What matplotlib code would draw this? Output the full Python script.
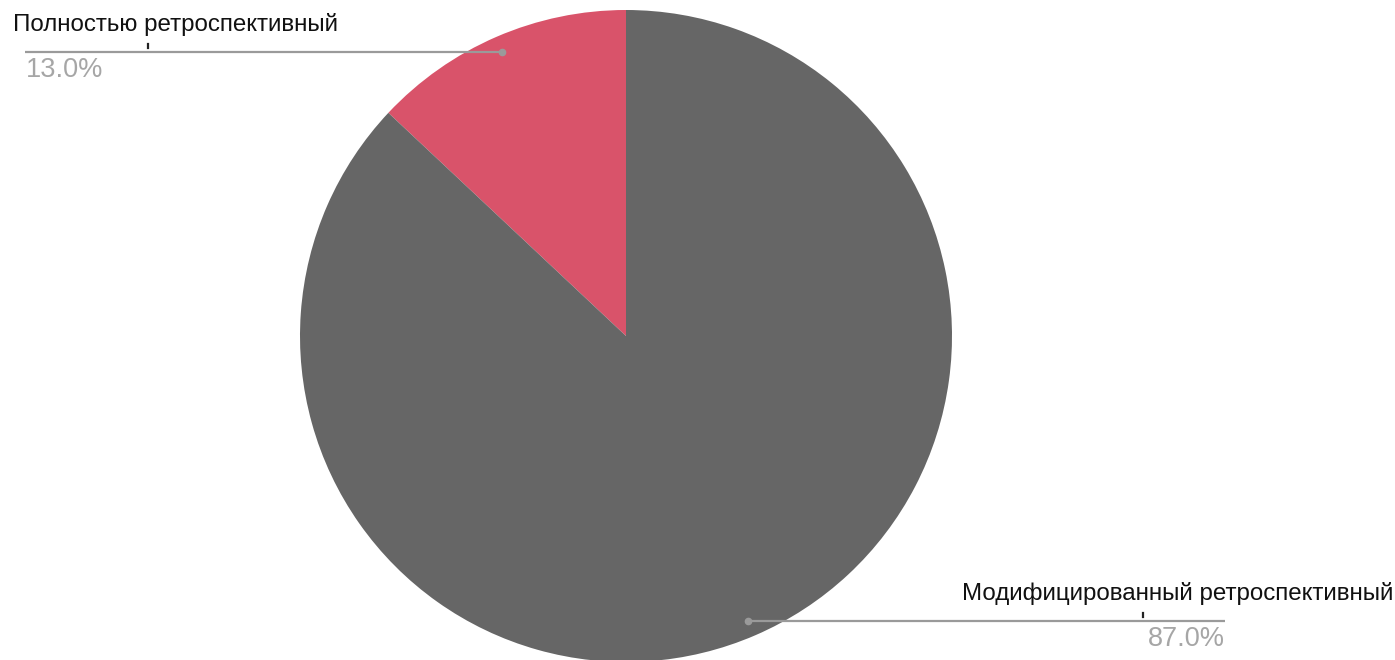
import matplotlib
matplotlib.use("Agg")
import matplotlib.pyplot as plt

labels = ["Полностью ретроспективный", "Модифицированный ретроспективный"]
values = [13.0, 87.0]
colors = ["#d9536a", "#666666"]

W, H = 1395, 660
fig = plt.figure(figsize=(W / 100, H / 100), dpi=100)
ax = fig.add_axes([0, 0, 1, 1])

cx, cy, r = 626, H - 336, 326
ax.pie(values, colors=colors, startangle=90, counterclock=True,
       center=(cx, cy), radius=r, frame=True,
       wedgeprops=dict(linewidth=0))
ax.set_xlim(0, W)
ax.set_ylim(0, H)
ax.set_aspect("equal")
ax.axis("off")

font = ["Liberation Sans", "DejaVu Sans"]
line_c = "#9a9a9a"
pct_c = "#a6a6a6"
lab_fs = 17.4
pct_fs = 19.5

# Label 1 (top-left)
y1 = H - 52
ax.plot([25, 502], [y1, y1], color=line_c, lw=1.6, solid_capstyle="butt")
ax.plot([502], [y1], "o", color=line_c, ms=4.5)
ax.plot([147.5, 147.5], [y1 + 4, y1 + 8], color="#222222", lw=1.6)
ax.text(13, H - 31, labels[0], fontsize=lab_fs, family=font, color="#111111",
        ha="left", va="baseline")
ax.text(26, H - 77, f"{values[0]:.1f}%", fontsize=pct_fs, family=font,
        color=pct_c, ha="left", va="baseline")

# Label 2 (bottom-right)
y2 = H - 621
ax.plot([748, 1225], [y2, y2], color=line_c, lw=1.6, solid_capstyle="butt")
ax.plot([748], [y2], "o", color=line_c, ms=4.5)
ax.plot([1142.5, 1142.5], [y2 + 4, y2 + 8], color="#222222", lw=1.6)
ax.text(1393, H - 600, labels[1], fontsize=lab_fs, family=font, color="#111111",
        ha="right", va="baseline")
ax.text(1225, H - 646, f"{values[1]:.1f}%", fontsize=pct_fs, family=font,
        color=pct_c, ha="right", va="baseline")

fig.savefig("out.png", dpi=100, facecolor="white")
